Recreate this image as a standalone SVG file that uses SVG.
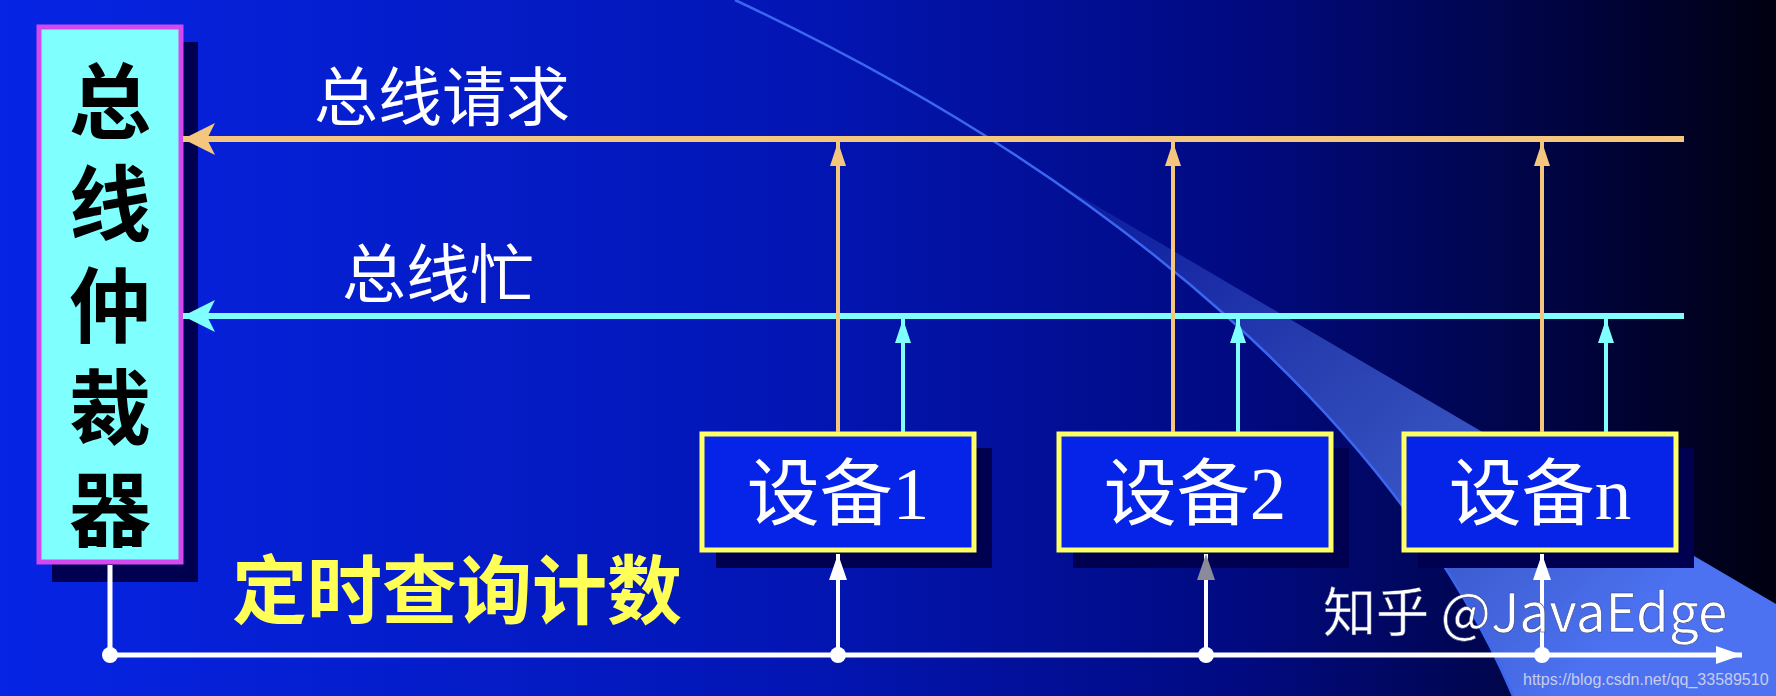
<svg xmlns="http://www.w3.org/2000/svg" width="1776" height="696" viewBox="0 0 1776 696">
<style>
.lbl{font-family:"Noto Sans CJK SC","Liberation Sans",sans-serif;fill:#ffffff;font-size:64px}
.arb{font-family:"Noto Sans CJK SC",sans-serif;font-weight:bold;font-size:82px;fill:#000000}
.dev{font-family:"Liberation Serif","Noto Sans CJK SC",serif;font-size:73px;fill:#ffffff;text-anchor:middle}
.devbox{fill:#0524E8;stroke:#FFFF66;stroke-width:5}
.shadow{fill:#000050}
.req{stroke:#F5C77E;fill:none}
.busy{stroke:#80FFFF;fill:none}
.clk{stroke:#ffffff;fill:none}
</style>
<defs>
<linearGradient id="bg" x1="0" y1="0" x2="1" y2="0">
<stop offset="0" stop-color="#0624E4"/>
<stop offset="0.45" stop-color="#0316B4"/>
<stop offset="0.7" stop-color="#010A80"/>
<stop offset="0.88" stop-color="#000440"/>
<stop offset="1" stop-color="#000010"/>
</linearGradient>
<linearGradient id="beam" gradientUnits="userSpaceOnUse" x1="1051" y1="180" x2="1560" y2="696">
<stop offset="0" stop-color="#4A6EE8" stop-opacity="0.1"/>
<stop offset="0.45" stop-color="#4A6EE8" stop-opacity="0.55"/>
<stop offset="1" stop-color="#4C72F2" stop-opacity="1"/>
</linearGradient>
<marker id="aO" markerUnits="userSpaceOnUse" markerWidth="24" markerHeight="20" refX="24" refY="10" orient="auto"><path d="M0,2 L24,10 L0,18 Z" fill="#F5C77E"/></marker>
<marker id="aC" markerUnits="userSpaceOnUse" markerWidth="24" markerHeight="20" refX="24" refY="10" orient="auto"><path d="M0,2 L24,10 L0,18 Z" fill="#80FFFF"/></marker>
<marker id="aW" markerUnits="userSpaceOnUse" markerWidth="26" markerHeight="22" refX="26" refY="11" orient="auto"><path d="M0,2 L26,11 L0,20 Z" fill="#ffffff"/></marker>
<marker id="aG" markerUnits="userSpaceOnUse" markerWidth="26" markerHeight="22" refX="26" refY="11" orient="auto"><path d="M0,2 L26,11 L0,20 Z" fill="#8a8a99"/></marker>
<marker id="bO" markerUnits="userSpaceOnUse" markerWidth="32" markerHeight="32" refX="32" refY="16" orient="auto"><path d="M0,0 L32,16 L0,32 L8,16 Z" fill="#F5C77E"/></marker>
<marker id="bC" markerUnits="userSpaceOnUse" markerWidth="32" markerHeight="32" refX="32" refY="16" orient="auto"><path d="M0,0 L32,16 L0,32 L8,16 Z" fill="#80FFFF"/></marker>
</defs>

<rect width="1776" height="696" fill="url(#bg)"/>
<path d="M1051.5,179.4 L1776,604 L1776,696 L1513,696 C1433.9,509.8 1273,331.4 1051.5,179.4 Z" fill="url(#beam)"/>
<path d="M735,0 C1120,180 1400,430 1513,696" fill="none" stroke="#3A66F0" stroke-width="2.5"/>

<g id="arbiter">
<rect class="shadow" x="52" y="42" width="146" height="540"/>
<rect x="39" y="27" width="142" height="535" fill="#80FFFF" stroke="#D448F0" stroke-width="5"/>
<text class="arb" x="110" y="60" writing-mode="vertical-rl" letter-spacing="20">总线仲裁器</text>
</g>

<g id="label-request"><text class="lbl" x="314" y="120">总线请求</text></g>
<g id="label-busy"><text class="lbl" x="342" y="297">总线忙</text></g>
<g id="label-poll"><text x="232" y="618" font-family="Noto Sans CJK SC,sans-serif" font-weight="bold" font-size="75" fill="#FFFF55">定时查询计数</text></g>

<g id="device1">
<rect class="shadow" x="716" y="448" width="276" height="120"/>
<rect class="devbox" x="702" y="434" width="272" height="116"/>
<text class="dev" x="838" y="519">设备1</text>
</g>
<g id="device2">
<rect class="shadow" x="1073" y="448" width="276" height="120"/>
<rect class="devbox" x="1059" y="434" width="272" height="116"/>
<text class="dev" x="1195" y="519">设备2</text>
</g>
<g id="devicen">
<rect class="shadow" x="1418" y="448" width="276" height="120"/>
<rect class="devbox" x="1404" y="434" width="272" height="116"/>
<text class="dev" x="1540" y="519">设备n</text>
</g>

<g id="connectors">
<line class="req" x1="1684" y1="139" x2="183" y2="139" stroke-width="6" marker-end="url(#bO)"/>
<line class="busy" x1="1684" y1="316" x2="183" y2="316" stroke-width="6" marker-end="url(#bC)"/>
<line class="req" x1="838" y1="432" x2="838" y2="142" stroke-width="4" marker-end="url(#aO)"/>
<line class="req" x1="1173" y1="432" x2="1173" y2="142" stroke-width="4" marker-end="url(#aO)"/>
<line class="req" x1="1542" y1="432" x2="1542" y2="142" stroke-width="4" marker-end="url(#aO)"/>
<line class="busy" x1="903" y1="432" x2="903" y2="319" stroke-width="4" marker-end="url(#aC)"/>
<line class="busy" x1="1238" y1="432" x2="1238" y2="319" stroke-width="4" marker-end="url(#aC)"/>
<line class="busy" x1="1606" y1="432" x2="1606" y2="319" stroke-width="4" marker-end="url(#aC)"/>
<line class="clk" x1="110" y1="565" x2="110" y2="656" stroke-width="5"/>
<line class="clk" x1="110" y1="655" x2="1742" y2="655" stroke-width="5" marker-end="url(#aW)"/>
<line class="clk" x1="838" y1="655" x2="838" y2="554" stroke-width="4" marker-end="url(#aW)"/>
<line class="clk" x1="1206" y1="655" x2="1206" y2="554" stroke-width="4" marker-end="url(#aG)"/>
<line class="clk" x1="1542" y1="655" x2="1542" y2="554" stroke-width="4" marker-end="url(#aW)"/>
<circle cx="110" cy="655" r="8" fill="#ffffff"/>
<circle cx="838" cy="655" r="8" fill="#ffffff"/>
<circle cx="1206" cy="655" r="8" fill="#ffffff"/>
<circle cx="1542" cy="655" r="8" fill="#ffffff"/>
</g>

<g id="watermarks">
<text x="1323" y="632" font-family="Noto Sans CJK SC,sans-serif" font-size="53" fill="#ffffff" stroke="#303a70" stroke-width="0.5">知乎 @JavaEdge</text>
<text x="1523" y="685" font-family="Liberation Sans,sans-serif" font-size="16" fill="#C8CCE8">https://blog.csdn.net/qq_33589510</text>
</g>
</svg>
